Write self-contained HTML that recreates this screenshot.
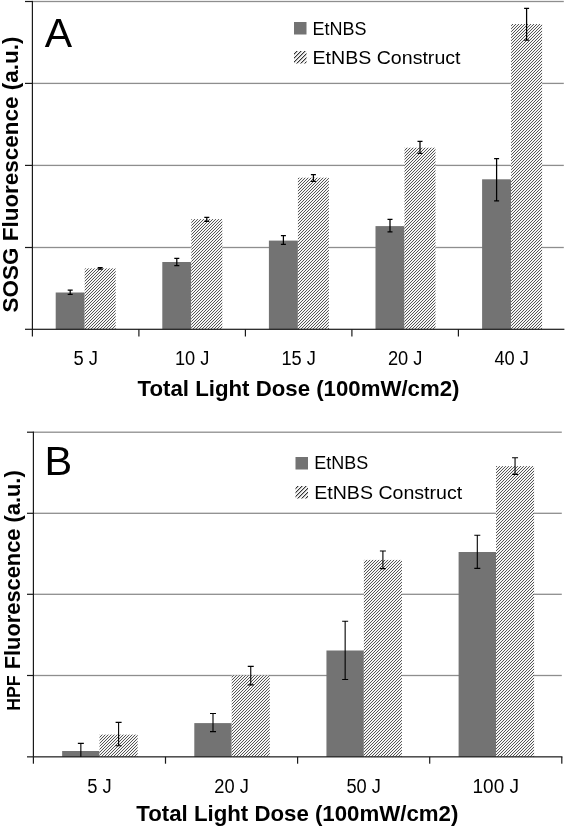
<!DOCTYPE html>
<html><head><meta charset="utf-8"><style>
html,body{margin:0;padding:0;background:#fff;width:566px;height:828px;overflow:hidden}
svg{display:block;will-change:transform}
text{font-family:"Liberation Sans",sans-serif}
</style></head><body>
<svg width="566" height="828" viewBox="0 0 566 828">
<defs><pattern id="h" patternUnits="userSpaceOnUse" width="3" height="3"><rect width="3" height="3" fill="#f5f5f5"/><rect x="2" y="0" width="1" height="1" fill="#555555"/><rect x="1" y="1" width="1" height="1" fill="#555555"/><rect x="0" y="2" width="1" height="1" fill="#555555"/></pattern><pattern id="h4" patternUnits="userSpaceOnUse" width="4" height="4"><rect width="4" height="4" fill="#f4f4f4"/><rect x="3" y="0" width="1" height="1" fill="#333"/><rect x="2" y="1" width="1" height="1" fill="#333"/><rect x="1" y="2" width="1" height="1" fill="#333"/><rect x="0" y="3" width="1" height="1" fill="#333"/><rect x="0" y="0" width="1" height="1" fill="#b4b4b4"/><rect x="3" y="1" width="1" height="1" fill="#b4b4b4"/><rect x="2" y="2" width="1" height="1" fill="#b4b4b4"/><rect x="1" y="3" width="1" height="1" fill="#b4b4b4"/></pattern><pattern id="hb" patternUnits="userSpaceOnUse" width="4" height="4"><rect width="4" height="4" fill="#f4f4f4"/><rect x="3" y="0" width="1" height="1" fill="#555555"/><rect x="2" y="1" width="1" height="1" fill="#555555"/><rect x="1" y="2" width="1" height="1" fill="#555555"/><rect x="0" y="3" width="1" height="1" fill="#555555"/><rect x="0" y="0" width="1" height="1" fill="#a8a8a8"/><rect x="3" y="1" width="1" height="1" fill="#a8a8a8"/><rect x="2" y="2" width="1" height="1" fill="#a8a8a8"/><rect x="1" y="3" width="1" height="1" fill="#a8a8a8"/></pattern></defs>
<rect width="566" height="828" fill="#fff"/>
<rect x="32.4" y="0.85" width="531.40" height="1.3" fill="#8e8e8e"/>
<rect x="32.4" y="82.75" width="531.40" height="1.3" fill="#8e8e8e"/>
<rect x="32.4" y="164.75" width="531.40" height="1.3" fill="#8e8e8e"/>
<rect x="32.4" y="246.85" width="531.40" height="1.3" fill="#8e8e8e"/>
<rect x="55.70" y="292.5" width="29.00" height="36.80" fill="#737373"/>
<rect x="84.70" y="268.4" width="31.00" height="60.90" fill="url(#h)"/>
<rect x="162.30" y="262" width="29.00" height="67.30" fill="#737373"/>
<rect x="191.30" y="219.1" width="31.00" height="110.20" fill="url(#h)"/>
<rect x="268.90" y="240.6" width="29.00" height="88.70" fill="#737373"/>
<rect x="297.90" y="177.7" width="31.00" height="151.60" fill="url(#h)"/>
<rect x="375.50" y="226.1" width="29.00" height="103.20" fill="#737373"/>
<rect x="404.50" y="147.7" width="31.00" height="181.60" fill="url(#h)"/>
<rect x="482.10" y="179.3" width="29.00" height="150.00" fill="#737373"/>
<rect x="511.10" y="24.0" width="31.00" height="305.30" fill="url(#h)"/>
<rect x="31.80" y="0.90" width="1.2" height="328.40" fill="#1a1a1a"/>
<rect x="25" y="328.70" width="539.40" height="1.2" fill="#1a1a1a"/>
<rect x="25" y="0.90" width="7.40" height="1.2" fill="#1a1a1a"/>
<rect x="25" y="82.80" width="7.40" height="1.2" fill="#1a1a1a"/>
<rect x="25" y="164.80" width="7.40" height="1.2" fill="#1a1a1a"/>
<rect x="25" y="246.90" width="7.40" height="1.2" fill="#1a1a1a"/>
<rect x="31.80" y="329.30" width="1.2" height="7.20" fill="#1a1a1a"/>
<rect x="138.30" y="329.30" width="1.2" height="7.20" fill="#1a1a1a"/>
<rect x="244.80" y="329.30" width="1.2" height="7.20" fill="#1a1a1a"/>
<rect x="351.30" y="329.30" width="1.2" height="7.20" fill="#1a1a1a"/>
<rect x="457.80" y="329.30" width="1.2" height="7.20" fill="#1a1a1a"/>
<path d="M70.20,290V294.3M67.70,290h5M67.70,294.3h5" stroke="#000" stroke-width="1.25" fill="none"/>
<path d="M100.20,267.7V269.0M97.70,267.7h5M97.70,269.0h5" stroke="#000" stroke-width="1.25" fill="none"/>
<path d="M176.80,258.4V265.5M174.30,258.4h5M174.30,265.5h5" stroke="#000" stroke-width="1.25" fill="none"/>
<path d="M206.80,217.4V221.3M204.30,217.4h5M204.30,221.3h5" stroke="#000" stroke-width="1.25" fill="none"/>
<path d="M283.40,235.7V244.4M280.90,235.7h5M280.90,244.4h5" stroke="#000" stroke-width="1.25" fill="none"/>
<path d="M313.40,174.6V181.3M310.90,174.6h5M310.90,181.3h5" stroke="#000" stroke-width="1.25" fill="none"/>
<path d="M390.00,219.3V231.8M387.50,219.3h5M387.50,231.8h5" stroke="#000" stroke-width="1.25" fill="none"/>
<path d="M420.00,141.3V153.3M417.50,141.3h5M417.50,153.3h5" stroke="#000" stroke-width="1.25" fill="none"/>
<path d="M496.60,158.5V200.9M494.10,158.5h5M494.10,200.9h5" stroke="#000" stroke-width="1.25" fill="none"/>
<path d="M526.60,8.3V40.0M524.10,8.3h5M524.10,40.0h5" stroke="#000" stroke-width="1.25" fill="none"/>
<rect x="33.4" y="431.55" width="528.40" height="1.3" fill="#8e8e8e"/>
<rect x="33.4" y="512.65" width="528.40" height="1.3" fill="#8e8e8e"/>
<rect x="33.4" y="593.65" width="528.40" height="1.3" fill="#8e8e8e"/>
<rect x="33.4" y="674.85" width="528.40" height="1.3" fill="#8e8e8e"/>
<rect x="62.15" y="751" width="37.40" height="5.85" fill="#737373"/>
<rect x="99.55" y="734.6" width="38.10" height="22.25" fill="url(#h)"/>
<rect x="194.30" y="723.1" width="37.40" height="33.75" fill="#737373"/>
<rect x="231.70" y="675.4" width="38.10" height="81.45" fill="url(#h)"/>
<rect x="326.45" y="650.5" width="37.40" height="106.35" fill="#737373"/>
<rect x="363.85" y="559.9" width="38.10" height="196.95" fill="url(#h)"/>
<rect x="458.60" y="552" width="37.40" height="204.85" fill="#737373"/>
<rect x="496.00" y="466.1" width="38.10" height="290.75" fill="url(#h)"/>
<rect x="32.80" y="431.60" width="1.2" height="325.25" fill="#1a1a1a"/>
<rect x="27" y="756.25" width="535.40" height="1.2" fill="#1a1a1a"/>
<rect x="27" y="431.60" width="6.40" height="1.2" fill="#1a1a1a"/>
<rect x="27" y="512.70" width="6.40" height="1.2" fill="#1a1a1a"/>
<rect x="27" y="593.70" width="6.40" height="1.2" fill="#1a1a1a"/>
<rect x="27" y="674.90" width="6.40" height="1.2" fill="#1a1a1a"/>
<rect x="32.80" y="756.85" width="1.2" height="6.85" fill="#1a1a1a"/>
<rect x="164.90" y="756.85" width="1.2" height="6.85" fill="#1a1a1a"/>
<rect x="297.00" y="756.85" width="1.2" height="6.85" fill="#1a1a1a"/>
<rect x="429.10" y="756.85" width="1.2" height="6.85" fill="#1a1a1a"/>
<rect x="561.20" y="756.85" width="1.2" height="6.85" fill="#1a1a1a"/>
<path d="M80.85,743.4V756.8M77.85,743.4h6" stroke="#000" stroke-width="1.1" fill="none"/>
<path d="M118.60,722.4V745.8M115.60,722.4h6M115.60,745.8h6" stroke="#000" stroke-width="1.1" fill="none"/>
<path d="M213.00,713.5V731.6M210.00,713.5h6M210.00,731.6h6" stroke="#000" stroke-width="1.1" fill="none"/>
<path d="M250.75,666.4V684.9M247.75,666.4h6M247.75,684.9h6" stroke="#000" stroke-width="1.1" fill="none"/>
<path d="M345.15,621.2V679.5M342.15,621.2h6M342.15,679.5h6" stroke="#000" stroke-width="1.1" fill="none"/>
<path d="M382.90,551V568.6M379.90,551h6M379.90,568.6h6" stroke="#000" stroke-width="1.1" fill="none"/>
<path d="M477.30,535.2V568.4M474.30,535.2h6M474.30,568.4h6" stroke="#000" stroke-width="1.1" fill="none"/>
<path d="M515.05,457.8V474.4M512.05,457.8h6M512.05,474.4h6" stroke="#000" stroke-width="1.1" fill="none"/>
<text x="44.8" y="46.6" font-size="41" font-weight="normal" text-anchor="start" fill="#000">A</text>
<text x="44.6" y="474.8" font-size="41.5" font-weight="normal" text-anchor="start" fill="#000">B</text>
<rect x="294" y="22" width="12.5" height="12.5" fill="#737373"/>
<rect x="294" y="51" width="12.5" height="12.5" fill="url(#h4)"/>
<text x="312.5" y="34.8" font-size="18.4" font-weight="normal" text-anchor="start" textLength="54" lengthAdjust="spacingAndGlyphs" fill="#000">EtNBS</text>
<text x="312.5" y="63.5" font-size="18.4" font-weight="normal" text-anchor="start" textLength="148" lengthAdjust="spacingAndGlyphs" fill="#000">EtNBS Construct</text>
<rect x="295.5" y="457" width="12.5" height="12.5" fill="#737373"/>
<rect x="295.5" y="486" width="12.5" height="12.5" fill="url(#h4)"/>
<text x="314.2" y="468.6" font-size="18.4" font-weight="normal" text-anchor="start" textLength="54" lengthAdjust="spacingAndGlyphs" fill="#000">EtNBS</text>
<text x="314.2" y="498.5" font-size="18.4" font-weight="normal" text-anchor="start" textLength="148" lengthAdjust="spacingAndGlyphs" fill="#000">EtNBS Construct</text>
<text x="85.65" y="365" font-size="20" font-weight="normal" text-anchor="middle" textLength="24.5" lengthAdjust="spacingAndGlyphs" fill="#000">5 J</text>
<text x="192.15" y="365" font-size="20" font-weight="normal" text-anchor="middle" textLength="34.5" lengthAdjust="spacingAndGlyphs" fill="#000">10 J</text>
<text x="298.65" y="365" font-size="20" font-weight="normal" text-anchor="middle" textLength="34.5" lengthAdjust="spacingAndGlyphs" fill="#000">15 J</text>
<text x="405.15" y="365" font-size="20" font-weight="normal" text-anchor="middle" textLength="34.5" lengthAdjust="spacingAndGlyphs" fill="#000">20 J</text>
<text x="511.65" y="365" font-size="20" font-weight="normal" text-anchor="middle" textLength="34.5" lengthAdjust="spacingAndGlyphs" fill="#000">40 J</text>
<text x="99.45" y="793" font-size="20" font-weight="normal" text-anchor="middle" textLength="24.5" lengthAdjust="spacingAndGlyphs" fill="#000">5 J</text>
<text x="231.55" y="793" font-size="20" font-weight="normal" text-anchor="middle" textLength="34.5" lengthAdjust="spacingAndGlyphs" fill="#000">20 J</text>
<text x="363.65" y="793" font-size="20" font-weight="normal" text-anchor="middle" textLength="34.5" lengthAdjust="spacingAndGlyphs" fill="#000">50 J</text>
<text x="495.75" y="793" font-size="20" font-weight="normal" text-anchor="middle" textLength="46.5" lengthAdjust="spacingAndGlyphs" fill="#000">100 J</text>
<text x="137.5" y="395.5" font-size="22" font-weight="bold" text-anchor="start" textLength="322" lengthAdjust="spacingAndGlyphs" fill="#000">Total Light Dose (100mW/cm2)</text>
<text x="136.3" y="821" font-size="22" font-weight="bold" text-anchor="start" textLength="322" lengthAdjust="spacingAndGlyphs" fill="#000">Total Light Dose (100mW/cm2)</text>
<text x="18" y="312.5" font-size="22" font-weight="bold" text-anchor="start" textLength="276" lengthAdjust="spacingAndGlyphs" transform="rotate(-90 18 312.5)" fill="#000">SOSG Fluorescence (a.u.)</text>
<text x="19.6" y="710.8" font-size="19.2" font-weight="bold" text-anchor="start" textLength="35.5" lengthAdjust="spacingAndGlyphs" transform="rotate(-90 19.6 710.8)" fill="#000">HPF</text>
<text x="19.6" y="669.3" font-size="22" font-weight="bold" text-anchor="start" textLength="199" lengthAdjust="spacingAndGlyphs" transform="rotate(-90 19.6 669.3)" fill="#000">Fluorescence (a.u.)</text>
</svg>
</body></html>
